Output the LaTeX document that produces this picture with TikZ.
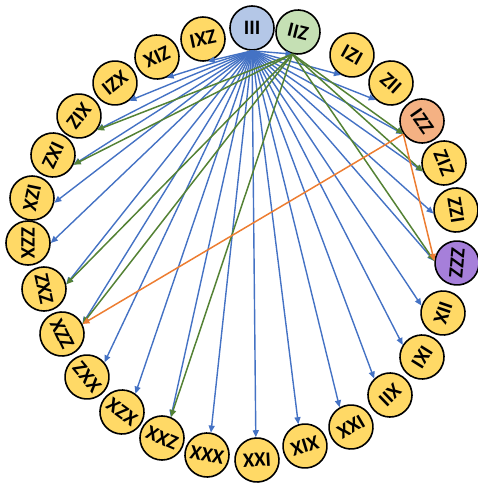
\documentclass[tikz,border=0pt]{standalone}
\usepackage{fontspec}
\setmainfont{Carlito}
\usetikzlibrary{arrows.meta}

\definecolor{nodeyellow}{HTML}{FFD966}
\definecolor{nodeblue}{HTML}{B4C7E7}
\definecolor{nodegreen}{HTML}{C5E0B4}
\definecolor{nodeorange}{HTML}{F4B183}
\definecolor{nodepurple}{HTML}{A67FDA}
\definecolor{lineblue}{HTML}{4472C4}
\definecolor{linegreen}{HTML}{548235}
\definecolor{lineorange}{HTML}{ED7D31}

\begin{document}
\begin{tikzpicture}[x=1pt, y=-1pt]
        \tikzstyle{every node}=[circle, fill=nodeyellow, draw=black, line width=1.6pt, inner sep=0pt, minimum size=44pt, font=\fontsize{20.5}{20.5}\selectfont\bfseries, text=black]
        \tikzstyle{edge}=[lineblue, line width=1.4pt, -{Triangle[length=7pt, width=6pt]}]

        \useasboundingbox (0,0) rectangle (478,487);

        % right half, text reads clockwise
        \node[rotate=0,    fill=nodeblue]   (III) at (252,28)  {III};
        \node[rotate=-14,  fill=nodegreen]  (IIZ) at (298,32)  {IIZ};
        \node[rotate=-29]                   (IZI) at (352,55)  {IZI};
        \node[rotate=-42]                   (ZII) at (391,83)  {ZII};
        \node[rotate=-55,  fill=nodeorange] (IZZ) at (422,121) {IZZ};
        \node[rotate=-68]                   (ZIZ) at (444,163) {ZIZ};
        \node[rotate=-81]                   (ZZI) at (456,210) {ZZI};
        \node[rotate=-95,  fill=nodepurple] (ZZZ) at (457,263) {ZZZ};
        \node[rotate=-109]                  (IIX) at (443,313) {IIX};
        \node[rotate=-122]                  (IXI) at (422,357) {IXI};
        \node[rotate=-136]                  (XII) at (390,395) {XII};
        \node[rotate=-150]                  (IXX) at (351,427) {IXX};
        \node[rotate=-163]                  (XIX) at (305,446) {XIX};

        % left half, text reads counterclockwise
        \node[rotate=3]                     (XXI) at (257,460) {XXI};
        \node[rotate=-10]                   (XXX) at (207,455) {XXX};
        \node[rotate=-23]                   (XXZ) at (162,438) {XXZ};
        \node[rotate=-36]                   (XZX) at (122,412) {XZX};
        \node[rotate=-50]                   (ZXX) at (87,377)  {ZXX};
        \node[rotate=-64]                   (XZZ) at (62,334)  {XZZ};
        \node[rotate=-78]                   (ZXZ) at (44,289)  {ZXZ};
        \node[rotate=-90]                   (ZZX) at (28,243)  {ZZX};
        \node[rotate=-102]                  (IZX) at (32,198)  {IZX};
        \node[rotate=-115]                  (IXZ) at (53,155)  {IXZ};
        \node[rotate=-128]                  (XIZ) at (79,116)  {XIZ};
        \node[rotate=-141]                  (XZI) at (115,83)  {XZI};
        \node[rotate=-155]                  (ZIX) at (157,57)  {ZIX};
        \node[rotate=-168]                  (ZXI) at (203,39)  {ZXI};

        \draw[edge] (III.south) -- (IIZ.south);
        \draw[edge] (III.south) -- (IZI.south);
        \draw[edge] (III.south) -- (ZII.south);
        \draw[edge] (III.south) -- (IZZ.south);
        \draw[edge] (III.south) -- (ZIZ.south);
        \draw[edge] (III.south) -- (ZZI.south);
        \draw[edge] (III.south) -- (ZZZ.south);
        \draw[edge] (III.south) -- (IIX.south);
        \draw[edge] (III.south) -- (IXI.south);
        \draw[edge] (III.south) -- (XII.south);
        \draw[edge] (III.south) -- (IXX.south);
        \draw[edge] (III.south) -- (XIX.south);
        \draw[edge] (III.south) -- (XXI.north);
        \draw[edge] (III.south) -- (XXX.north);
        \draw[edge] (III.south) -- (XXZ.north);
        \draw[edge] (III.south) -- (XZX.north);
        \draw[edge] (III.south) -- (ZXX.north);
        \draw[edge] (III.south) -- (XZZ.north);
        \draw[edge] (III.south) -- (ZXZ.north);
        \draw[edge] (III.south) -- (ZZX.north);
        \draw[edge] (III.south) -- (IZX.north);
        \draw[edge] (III.south) -- (IXZ.north);
        \draw[edge] (III.south) -- (XIZ.north);
        \draw[edge] (III.south) -- (XZI.north);
        \draw[edge] (III.south) -- (ZIX.north);
        \draw[edge] (III.south) -- (ZXI.north);

        \tikzstyle{edge}=[linegreen, line width=1.5pt, -{Triangle[length=7pt, width=6pt]}]
        \draw[edge] (IIZ.south) -- (IZZ.south);
        \draw[edge] (IIZ.south) -- (ZIZ.south);
        \draw[edge] (IIZ.south) -- (ZZZ.south);
        \draw[edge] (IIZ.south) -- (XXZ.north);
        \draw[edge] (IIZ.south) -- (XZZ.north);
        \draw[edge] (IIZ.south) -- (ZXZ.north);
        \draw[edge] (IIZ.south) -- (IXZ.north);
        \draw[edge] (IIZ.south) -- (XIZ.north);

        \tikzstyle{edge}=[lineorange, line width=1.5pt, -{Triangle[length=7pt, width=6pt]}]
        \draw[edge] (IZZ.south) -- (ZZZ.south);
        \draw[edge] (IZZ.south) -- (XZZ.north);
\end{tikzpicture}
\end{document}
